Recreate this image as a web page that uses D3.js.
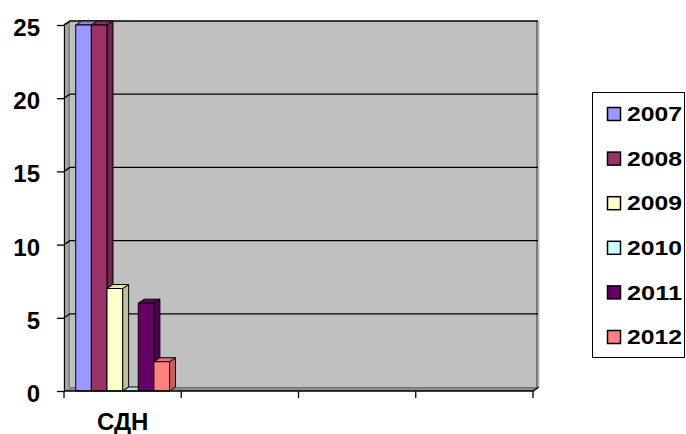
<!DOCTYPE html>
<html>
<head>
<meta charset="utf-8">
<script src="https://cdn.jsdelivr.net/npm/d3@7"></script>
<style>
  body { margin: 0; background: #fff; }
  svg { display: block; }
  text { font-family: "Liberation Sans", Arial, sans-serif; font-weight: bold; fill: #000; }
</style>
</head>
<body>
<svg id="chart" width="686" height="434"></svg>
<script>
// Category slots on the x axis (only the first one is filled)
const categories = ["СДН", "", "", ""];
// Series (years) and their values for "СДН"
const years = ["2007", "2008", "2009", "2010", "2011", "2012"];
const values = [25, 25, 7, 0, 6, 2];
const colors = ["#9999FF", "#993366", "#FFFFCC", "#CCFFFF", "#660066", "#FF8080"];
const yTicks = [0, 5, 10, 15, 20, 25];

(function () {
const svg = d3.select("#chart");

// Front plane of the 3D box and its depth offset
const plotLeft = 64, plotRight = 533, plotBottom = 391, plotTop = 25;
const dx = 6, dy = -4;

const y = d3.scaleLinear().domain([0, 25]).range([plotBottom, plotTop]);
const xCat = d3.scaleBand().domain(d3.range(categories.length)).range([plotLeft, plotRight]).padding(0);
const xSer = d3.scaleBand().domain(years).range([0, xCat.bandwidth()]).paddingInner(0).paddingOuter(0.75);

// Gradient for the left side wall
const defs = svg.append("defs");
const g1 = defs.append("linearGradient").attr("id", "sideWall").attr("x1", 0).attr("x2", 1).attr("y1", 0).attr("y2", 0);
g1.append("stop").attr("offset", "0%").attr("stop-color", "#cfcfcf");
g1.append("stop").attr("offset", "45%").attr("stop-color", "#a8a8a8");
g1.append("stop").attr("offset", "100%").attr("stop-color", "#7c7c7c");

const walls = svg.append("g");
const y0 = y(0), yMax = y(25);

// Back wall
walls.append("polygon")
  .attr("points", [[plotLeft + dx, yMax + dy], [plotRight + dx, yMax + dy], [plotRight + dx, y0 + dy], [plotLeft + dx, y0 + dy]].join(" "))
  .attr("fill", "#C0C0C0");

// Left side wall
walls.append("polygon")
  .attr("points", [[plotLeft, yMax], [plotLeft + dx, yMax + dy], [plotLeft + dx, y0 + dy], [plotLeft, y0]].join(" "))
  .attr("fill", "url(#sideWall)");

// Floor
walls.append("polygon")
  .attr("points", [[plotLeft, y0], [plotRight, y0], [plotRight + dx, y0 + dy], [plotLeft + dx, y0 + dy]].join(" "))
  .attr("fill", "#8e8e8e");

// Right edge of the back wall
walls.append("line")
  .attr("x1", plotRight + dx - 2).attr("x2", plotRight + dx - 2)
  .attr("y1", yMax + dy).attr("y2", y0 + dy)
  .attr("stroke", "#7a7a7a").attr("stroke-width", 2);
walls.append("line")
  .attr("x1", plotRight + dx + 0.5).attr("x2", plotRight + dx + 0.5)
  .attr("y1", yMax + dy - 1).attr("y2", y0 + dy)
  .attr("stroke", "#dcdcdc").attr("stroke-width", 1);

// Bottom edge of the back wall
walls.append("line")
  .attr("x1", plotLeft + dx).attr("x2", plotRight + dx)
  .attr("y1", y0 + dy + 0.5).attr("y2", y0 + dy + 0.5)
  .attr("stroke", "#6e6e6e").attr("stroke-width", 1);

// Gridlines across side wall and back wall
walls.selectAll("polyline.grid")
  .data(yTicks.filter(t => t > 0))
  .join("polyline")
  .attr("class", "grid")
  .attr("points", t => [[plotLeft, y(t)], [plotLeft + dx, y(t) + dy], [plotRight + dx - 1, y(t) + dy]].join(" "))
  .attr("fill", "none")
  .attr("stroke", "#000")
  .attr("stroke-width", t => t === 25 ? 1.6 : 1.3);

// Bars (drawn left to right so right-hand bars cover side faces)
const bars = svg.append("g");
const base = xCat(0);
years.forEach((yr, i) => {
  const v = values[i];
  const x0 = base + xSer(yr), w = xSer.bandwidth();
  const yt = y(v);
  const c = d3.color(colors[i]);
  const g = bars.append("g").attr("stroke", "#000").attr("stroke-width", 1).attr("stroke-linejoin", "round");
  if (v > 0) {
    g.append("polygon")
      .attr("points", [[x0 + w, yt], [x0 + w + dx, yt + dy], [x0 + w + dx, y0 + dy], [x0 + w, y0]].join(" "))
      .attr("fill", c.darker(0.8));
  }
  g.append("polygon")
    .attr("points", [[x0, yt], [x0 + w, yt], [x0 + w + dx, yt + dy], [x0 + dx, yt + dy]].join(" "))
    .attr("fill", c.darker(0.3));
  if (v > 0) {
    g.append("rect")
      .attr("x", x0).attr("y", yt).attr("width", w).attr("height", y0 - yt)
      .attr("fill", colors[i]);
  }
});

// Front floor edge / x axis line
svg.append("polyline")
  .attr("points", [[plotLeft, y0], [plotRight, y0], [plotRight + dx, y0 + dy]].join(" "))
  .attr("fill", "none").attr("stroke", "#000").attr("stroke-width", 1.5);

// Y axis
const yAxis = d3.axisLeft(y).tickValues(yTicks).tickSizeInner(7).tickSizeOuter(0).tickPadding(17).tickFormat(d3.format("d"));
const ya = svg.append("g").attr("transform", `translate(${plotLeft},0)`).call(yAxis);
ya.select(".domain").attr("stroke", "#000").attr("stroke-width", 1.3);
ya.selectAll(".tick line").attr("stroke", "#000").attr("stroke-width", 1.3);
ya.selectAll(".tick text")
  .attr("dy", "0.44em")
  .style("font-family", "'Liberation Sans', Arial, sans-serif")
  .style("font-weight", "bold")
  .style("font-size", "24px")
  .attr("fill", "#000");

// X axis ticks at category boundaries
const xEdges = categories.map((c, i) => xCat(i)).concat([xCat(categories.length - 1) + xCat.bandwidth()]);
svg.append("g").selectAll("line")
  .data(xEdges)
  .join("line")
  .attr("x1", d => d).attr("x2", d => d)
  .attr("y1", y0).attr("y2", y0 + 7)
  .attr("stroke", "#000").attr("stroke-width", 1.3);

// Category labels
svg.append("g").selectAll("text")
  .data(categories)
  .join("text")
  .attr("x", (c, i) => xCat(i) + xCat.bandwidth() / 2)
  .attr("y", 430)
  .attr("text-anchor", "middle")
  .style("font-size", "24px")
  .text(c => c);

// Legend
const legend = svg.append("g");
legend.append("rect")
  .attr("x", 592.5).attr("y", 92.5).attr("width", 92).attr("height", 265)
  .attr("fill", "#fff").attr("stroke", "#000").attr("stroke-width", 1);
const rowY = d3.scalePoint().domain(years).range([114, 337]);
const items = legend.selectAll("g.item").data(years).join("g").attr("class", "item");
items.append("rect")
  .attr("x", 607.5).attr("y", d => rowY(d) - 6.5)
  .attr("width", 13).attr("height", 13)
  .attr("fill", (d, i) => colors[i])
  .attr("stroke", "#000").attr("stroke-width", 1.5);
items.append("text")
  .attr("x", 627).attr("y", d => rowY(d) + 7.2)
  .attr("textLength", 55).attr("lengthAdjust", "spacingAndGlyphs")
  .style("font-size", "20px")
  .text(d => d);
})();
</script>
</body>
</html>
